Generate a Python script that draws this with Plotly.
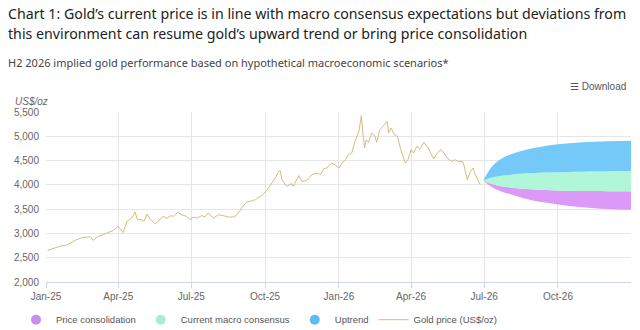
import plotly.graph_objects as go

# ---------------- data ----------------
gold_dates = [
    "2025-01-03", "2025-01-10", "2025-01-18", "2025-01-27", "2025-01-31", "2025-02-08",
    "2025-02-16", "2025-02-25", "2025-03-01", "2025-03-07", "2025-03-13", "2025-03-20",
    "2025-03-26", "2025-04-01", "2025-04-07", "2025-04-12", "2025-04-18", "2025-04-22",
    "2025-04-25", "2025-04-30", "2025-05-03", "2025-05-07", "2025-05-11", "2025-05-17",
    "2025-05-23", "2025-05-27", "2025-06-01", "2025-06-05", "2025-06-09", "2025-06-14",
    "2025-06-19", "2025-06-25", "2025-06-30", "2025-07-02", "2025-07-08", "2025-07-14",
    "2025-07-18", "2025-07-22", "2025-07-29", "2025-08-04", "2025-08-10", "2025-08-16",
    "2025-08-23", "2025-08-27", "2025-09-02", "2025-09-08", "2025-09-15", "2025-09-19",
    "2025-09-23", "2025-09-27", "2025-10-03", "2025-10-09", "2025-10-13", "2025-10-18",
    "2025-10-20", "2025-10-22", "2025-10-28", "2025-11-03", "2025-11-05", "2025-11-12",
    "2025-11-16", "2025-11-22", "2025-11-28", "2025-12-05", "2025-12-09", "2025-12-13",
    "2025-12-17", "2025-12-23", "2025-12-27", "2026-01-01", "2026-01-05", "2026-01-09",
    "2026-01-13", "2026-01-17", "2026-01-21", "2026-01-26", "2026-01-29", "2026-01-31",
    "2026-02-02", "2026-02-04", "2026-02-07", "2026-02-11", "2026-02-15", "2026-02-17",
    "2026-02-21", "2026-02-25", "2026-03-02", "2026-03-04", "2026-03-07", "2026-03-11",
    "2026-03-15", "2026-03-19", "2026-03-22", "2026-03-25", "2026-03-28", "2026-04-01",
    "2026-04-04", "2026-04-08", "2026-04-12", "2026-04-17", "2026-04-23", "2026-04-29",
    "2026-05-03", "2026-05-08", "2026-05-12", "2026-05-17", "2026-05-22", "2026-05-26",
    "2026-05-30", "2026-06-04", "2026-06-06", "2026-06-10", "2026-06-14", "2026-06-17",
    "2026-06-20", "2026-06-23", "2026-06-26",
]
gold_price = [
    2651, 2692, 2733, 2762, 2803, 2871,
    2918, 2933, 2857, 2939, 2974, 3021,
    3062, 3145, 3021, 3248, 3317, 3441,
    3283, 3283, 3248, 3400, 3297, 3194,
    3283, 3351, 3310, 3365, 3351, 3433,
    3386, 3351, 3283, 3331, 3317, 3365,
    3338, 3421, 3317, 3386, 3365, 3338,
    3338, 3386, 3524, 3647, 3674, 3694,
    3750, 3777, 3886, 4038, 4121, 4277,
    4292, 4106, 3968, 4024, 3968, 4188,
    4071, 4092, 4209, 4244, 4209, 4330,
    4347, 4450, 4415, 4347, 4450, 4518,
    4621, 4656, 4895, 5101, 5424, 5033,
    4759, 4930, 4875, 5068, 4998, 4875,
    5136, 5204, 5307, 5068, 5171, 5033,
    4998, 4724, 4586, 4450, 4518, 4724,
    4656, 4792, 4738, 4875, 4738, 4532,
    4642, 4724, 4656, 4532, 4483, 4518,
    4483, 4483, 4395, 4106, 4277, 4347,
    4209, 4106, 4003,
]

scenario_dates = [
    "2026-06-30", "2026-07-10", "2026-07-20", "2026-08-01", "2026-08-15", "2026-09-01",
    "2026-09-15", "2026-10-01", "2026-10-15", "2026-11-01", "2026-11-15", "2026-12-01",
    "2026-12-15", "2026-12-31",
]
consolidation_low = [4092, 3960, 3880, 3815, 3745, 3675, 3635, 3595, 3565, 3538, 3520, 3505, 3495, 3489]
consolidation_high = [4092, 4025, 3978, 3952, 3925, 3905, 3895, 3885, 3880, 3875, 3872, 3869, 3867, 3866]
consensus_high = [4092, 4145, 4180, 4205, 4228, 4243, 4253, 4261, 4267, 4271, 4274, 4276, 4278, 4280]
uptrend_high = [4092, 4360, 4510, 4615, 4690, 4760, 4800, 4835, 4858, 4877, 4890, 4899, 4905, 4909]

tick_dates = ["2025-01-01", "2025-04-01", "2025-07-01", "2025-10-01",
              "2026-01-01", "2026-04-01", "2026-07-01", "2026-10-01"]
tick_labels = ["Jan-25", "Apr-25", "Jul-25", "Oct-25", "Jan-26", "Apr-26", "Jul-26", "Oct-26"]
y_ticks = [2000, 2500, 3000, 3500, 4000, 4500, 5000, 5500]

series_names = ["Price consolidation", "Current macro consensus", "Uptrend", "Gold price (US$/oz)"]
fill_colors = ["#dc9af8", "#b0f7d9", "#74c9f8"]
marker_colors = ["#c98ee8", "#a6efcf", "#5ebdf0"]
gold_color = "#d6bc7c"

title_lines = [
    "Chart 1: Gold\u2019s current price is in line with macro consensus expectations but deviations from",
    "this environment can resume gold\u2019s upward trend or bring price consolidation",
]
subtitle = "H2 2026 implied gold performance based on hypothetical macroeconomic scenarios*"

# ---------------- figure ----------------
fig = go.Figure()

bands = [
    (consolidation_low, consolidation_high),
    (consolidation_high, consensus_high),
    (consensus_high, uptrend_high),
]
for (low, high), fc in zip(bands, fill_colors):
    fig.add_trace(go.Scatter(x=scenario_dates, y=low, mode="lines",
                             line=dict(width=0, shape="spline", color=fc),
                             showlegend=False, hoverinfo="skip"))
    fig.add_trace(go.Scatter(x=scenario_dates, y=high, mode="lines",
                             line=dict(width=0, shape="spline", color=fc),
                             fill="tonexty", fillcolor=fc,
                             showlegend=False, hoverinfo="skip"))

fig.add_trace(go.Scatter(x=gold_dates, y=gold_price, mode="lines",
                         line=dict(width=1, color=gold_color),
                         showlegend=False))

# legend entries
for name, mc in zip(series_names[:3], marker_colors):
    fig.add_trace(go.Scatter(x=[None], y=[None], mode="markers", name=name,
                             marker=dict(size=10, color=mc, symbol="circle")))
fig.add_trace(go.Scatter(x=[None], y=[None], mode="lines", name=series_names[3],
                         line=dict(width=1, color=gold_color)))

PLOT_TOP, PLOT_BOTTOM, PLOT_LEFT, PLOT_W = 112.3, 282.3, 46.0, 585.0


def py(pix):
    return (PLOT_BOTTOM - pix) / (PLOT_BOTTOM - PLOT_TOP)


def px(pix):
    return (pix - PLOT_LEFT) / PLOT_W


fig.update_layout(
    width=640, height=330,
    margin=dict(l=46, r=9, t=112, b=48, autoexpand=False),
    paper_bgcolor="white", plot_bgcolor="white",
    font=dict(family="Liberation Sans, Arial, sans-serif", size=10, color="#666666"),
    showlegend=True,
    legend=dict(orientation="h", x=px(16), xanchor="left", y=py(320), yanchor="middle",
                font=dict(size=9.5, color="#555555"), itemwidth=30, traceorder="normal",
                bgcolor="rgba(0,0,0,0)"),
    xaxis=dict(
        type="date",
        range=["2025-01-01", "2026-12-31"],
        tickvals=tick_dates, ticktext=tick_labels,
        showgrid=True, gridcolor="#e6e6e6", gridwidth=1,
        showline=True, linecolor="#ccd6eb", linewidth=1,
        ticks="outside", ticklen=5, tickcolor="#ccd6eb",
        tickfont=dict(size=10, color="#666666"),
        zeroline=False, fixedrange=True,
    ),
    yaxis=dict(
        range=[2000, 5500],
        tickvals=y_ticks, tickformat=",",
        showgrid=True, gridcolor="#e6e6e6", gridwidth=1,
        zeroline=False, showline=False,
        ticks="", ticklabelstandoff=6,
        tickfont=dict(size=10, color="#666666"),
        fixedrange=True,
    ),
    annotations=[
        dict(text=title_lines[0], xref="paper", yref="paper", x=px(6), y=py(14),
             xanchor="left", yanchor="middle", showarrow=False,
             font=dict(family="Noto Sans, sans-serif", size=14.2, color="#222222")),
        dict(text=title_lines[1], xref="paper", yref="paper", x=px(6), y=py(34),
             xanchor="left", yanchor="middle", showarrow=False,
             font=dict(family="Noto Sans, sans-serif", size=14.2, color="#222222")),
        dict(text=subtitle, xref="paper", yref="paper", x=px(6), y=py(63),
             xanchor="left", yanchor="middle", showarrow=False,
             font=dict(family="Noto Sans, sans-serif", size=11, color="#444444")),
        dict(text="<i>US$/oz</i>", xref="paper", yref="paper", x=px(13), y=py(102),
             xanchor="left", yanchor="middle", showarrow=False,
             font=dict(size=10, color="#666666")),
        dict(text="\u2630 Download", xref="paper", yref="paper", x=px(628), y=py(87),
             xanchor="right", yanchor="middle", showarrow=False,
             font=dict(size=10, color="#555555")),
    ],
)

fig.write_html("out.html", config={"displayModeBar": False})
